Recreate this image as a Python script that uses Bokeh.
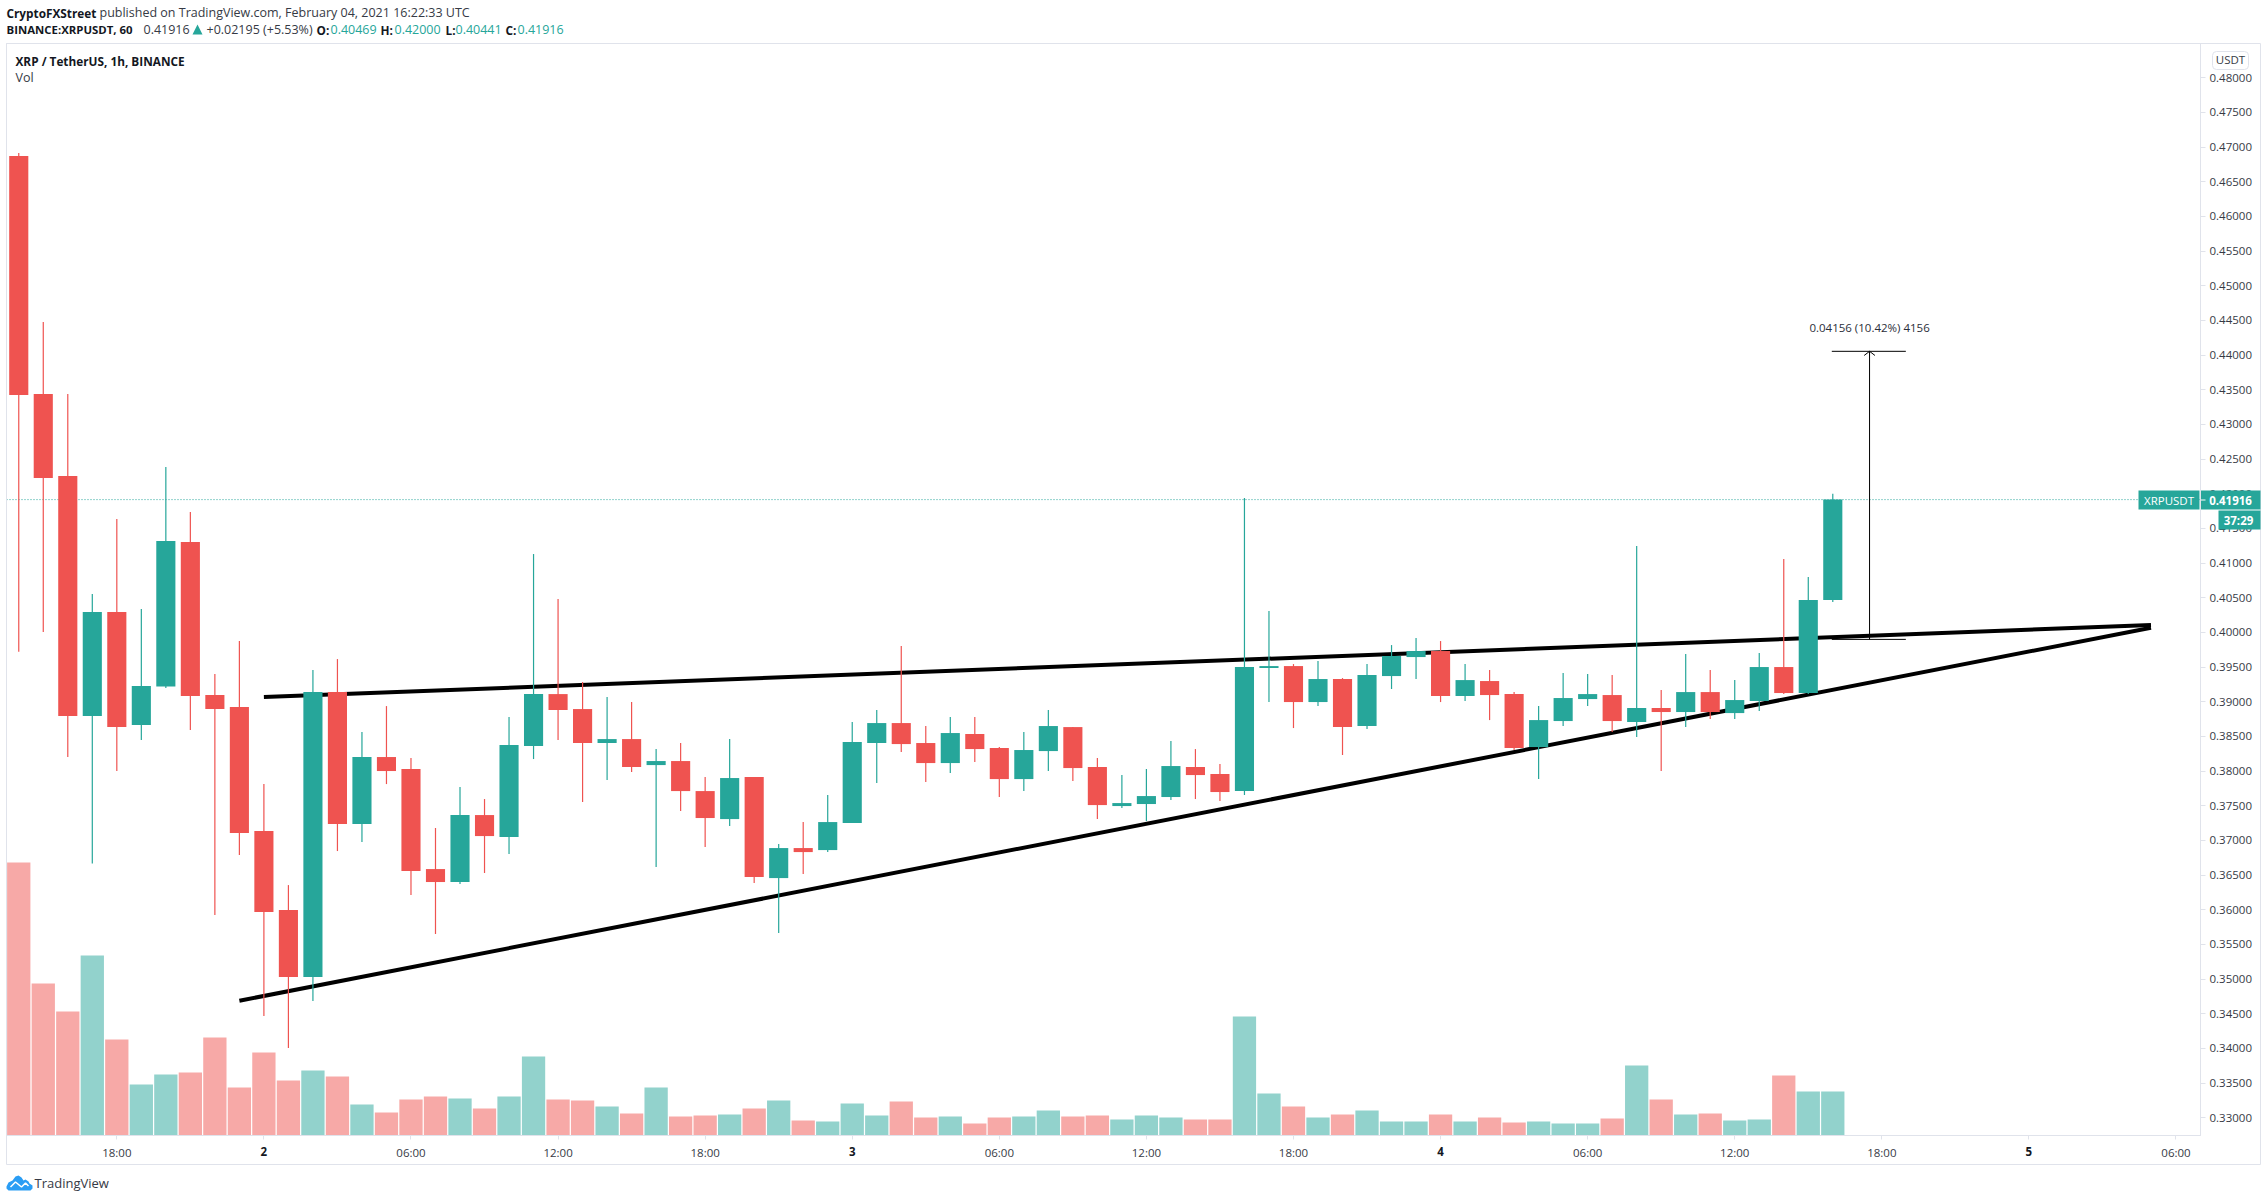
from bokeh.plotting import figure
from bokeh.layouts import column
from bokeh.embed import file_html
from bokeh.resources import INLINE
from bokeh.core.properties import value
from bokeh.models import Range1d, FixedTicker, Span, ColumnDataSource

# ---- data -----------------------------------------------------------------
START_HOUR = -10  # first candle: 1 Feb 14:00, hours counted from 2 Feb 00:00
OPEN = [.46871,.43439,.42257,.38794,.40296,.38664,.39220,.41304,.39097,.38924,
        .37135,.35996,.35029,.39140,.37236,.38203,.38030,.36587,.36400,.37366,
        .37049,.38361,.39111,.38895,.38405,.38462,.38087,.38145,.37712,.37308,
        .37914,.36457,.36890,.36861,.37251,.38405,.38693,.38405,.38116,.38535,
        .38333,.37885,.38289,.38635,.38059,.37496,.37525,.37626,.38059,.37958,
        .37712,.39487,.39515,.38996,.39328,.38650,.39371,.39645,.39732,.39083,
        .39299,.39111,.38347,.38722,.39039,.39097,.38708,.38910,.38852,.39140,
        .38837,.39011,.39501,.39126,.40469]
HIGH = [.46915,.44477,.43439,.40554,.41636,.40338,.42386,.41737,.39400,.39876,
        .37813,.36356,.39458,.39616,.38563,.38938,.38188,.37179,.37770,.37597,
        .38780,.41131,.40482,.39285,.39068,.38996,.38318,.38405,.37914,.38462,
        .37914,.36948,.37265,.37655,.38708,.38881,.39804,.38650,.38780,.38780,
        .38347,.38563,.38881,.38635,.38188,.37943,.38030,.38434,.38318,.38102,
        .41939,.40309,.39544,.39587,.39342,.39544,.39818,.39919,.39876,.39544,
        .39458,.39140,.38938,.39414,.39400,.39386,.41246,.39169,.39688,.39458,
        .39313,.39703,.41059,.40799,.42000]
LOW = [.39722,.40006,.38203,.36667,.38001,.38448,.39198,.38592,.35924,.36789,
       .34467,.34005,.34683,.36847,.36977,.37813,.36212,.35650,.36371,.36530,
       .36804,.38174,.38448,.37554,.37871,.37986,.36616,.37424,.36905,.37208,
       .36385,.35664,.36515,.36832,.37251,.37828,.38275,.37842,.37972,.38131,
       .37626,.37712,.38001,.37857,.37308,.37467,.37280,.37583,.37597,.37568,
       .37655,.38996,.38621,.38938,.38232,.38607,.39184,.39328,.38996,.39011,
       .38736,.38304,.37885,.38650,.38938,.38563,.38491,.38001,.38635,.38751,
       .38751,.38866,.39111,.39111,.40441]
CLOSE = [.43424,.42227,.38794,.40296,.38635,.39227,.41318,.39083,.38895,.37107,
         .35967,.35029,.39140,.37236,.38203,.38001,.36558,.36400,.37366,.37063,
         .38376,.39111,.38881,.38405,.38462,.38059,.38145,.37712,.37323,.37900,
         .36472,.36890,.36832,.37265,.38419,.38693,.38390,.38116,.38549,.38318,
         .37885,.38304,.38650,.38044,.37510,.37539,.37640,.38073,.37943,.37698,
         .39501,.39515,.38996,.39328,.38635,.39386,.39660,.39732,.39083,.39313,
         .39097,.38333,.38736,.39054,.39111,.38722,.38910,.38852,.39140,.38852,
         .39025,.39501,.39126,.40469,.41916]
VOLUME = [273,152,124,180,96,51,61,63,98,48,83,55,65,59,31,23,36,39,37,27,39,79,
          36,35,29,22,48,19,20,21,27,35,15,14,32,20,34,18,19,12,18,19,25,19,20,
          16,20,18,16,16,119,42,29,18,21,25,14,14,21,14,18,13,14,12,12,17,70,36,
          21,22,15,16,60,44,44]
PRICE_TICKS = [.33,.335,.34,.345,.35,.355,.36,.365,.37,.375,.38,.385,.39,.395,.40,
               .405,.41,.415,.42,.425,.43,.435,.44,.445,.45,.455,.46,.465,.47,.475,.48]
TIME_TICKS = {-6:"18:00",0:"",6:"06:00",12:"12:00",18:"18:00",24:"",30:"06:00",36:"12:00",
              42:"18:00",48:"",54:"06:00",60:"12:00",66:"18:00",72:"",78:"06:00"}
DAY_TICKS = {0:"2",24:"3",48:"4",72:"5"}
UPPER_LINE = ([0.0,76.98],[.39068,.40107])
LOWER_LINE = ([-1.0,76.98],[.34688,.40068])
MEASURE_HOUR, MEASURE_FROM, MEASURE_TO = 65.5, .39900, .44055
MEASURE_CAP = (63.96,66.98)
LAST_PRICE = .41916

# ---- page geometry ---------------------------------------------------------
W, H = 2262, 1193
FL, FR, FT, FB = 6, 2200, 43, 1135
XR = (-10.5,79.0)
UP, DOWN = "#26a69a", "#ef5350"
UP_V, DOWN_V = "#92d2cc", "#f7a9a7"
BORDER = "#e0e3eb"
FONT = "Open Sans"

p1 = figure(width=W, height=H, output_backend="svg", toolbar_location=None,
            x_range=Range1d(*XR), y_range=Range1d(.32744,.48495),
            x_axis_location="below", y_axis_location="right",
            min_border_left=FL, min_border_right=W-FR, min_border_top=FT, min_border_bottom=H-FB,
            background_fill_color="white", border_fill_color="white",
            outline_line_color=BORDER, outline_line_width=1, frame_align=False)
p1.grid.visible = False

xa, ya = p1.xaxis[0], p1.yaxis[0]
xa.ticker = FixedTicker(ticks=list(TIME_TICKS))
xa.major_label_overrides = {k:v for k,v in TIME_TICKS.items()}
ya.ticker = FixedTicker(ticks=PRICE_TICKS)
ya.major_label_overrides = {t:f"{t:.5f}" for t in PRICE_TICKS}
for a in (xa,ya):
    a.axis_line_color = BORDER
    a.major_tick_line_color = BORDER
    a.major_tick_in = 0
    a.minor_tick_line_color = None
    a.major_label_text_color = "#363a45"
    a.major_label_text_font = FONT
    a.major_label_text_font_size = "11.5px"
xa.major_tick_out = 4
xa.major_label_standoff = 5
ya.major_tick_out = 5
ya.major_label_standoff = 4

p1.extra_y_ranges = {"vol":Range1d(0,FB-FT)}

hours = [START_HOUR+i for i in range(len(OPEN))]
src = ColumnDataSource(dict(
    x=hours, o=OPEN, h=HIGH, l=LOW, c=CLOSE, v=VOLUME,
    color=[UP if c>=o else DOWN for o,c in zip(OPEN,CLOSE)],
    vcolor=[UP_V if c>=o else DOWN_V for o,c in zip(OPEN,CLOSE)],
    top=[max(o,c) for o,c in zip(OPEN,CLOSE)],
    bot=[min(o,c) for o,c in zip(OPEN,CLOSE)]))

p1.add_layout(Span(location=LAST_PRICE, dimension="width", line_color=UP, line_width=1,
                   line_dash="1 2", level="underlay"))
p1.vbar(x="x", top="v", bottom=0, width=.95, fill_color="vcolor", line_color=None,
        source=src, y_range_name="vol")
for xs,ys in (UPPER_LINE,LOWER_LINE):
    p1.line(xs, ys, line_color="black", line_width=4, line_cap="butt")
p1.segment(x0="x", x1="x", y0="l", y1="h", line_color="color", line_width=1.2, source=src)
p1.vbar(x="x", top="top", bottom="bot", width=.78, fill_color="color", line_color=None, source=src)

M = "#000000"
p1.segment(x0=[MEASURE_HOUR,MEASURE_CAP[0],MEASURE_CAP[0],MEASURE_HOUR-.22,MEASURE_HOUR+.22],
           x1=[MEASURE_HOUR,MEASURE_CAP[1],MEASURE_CAP[1],MEASURE_HOUR,MEASURE_HOUR],
           y0=[MEASURE_FROM,MEASURE_FROM,MEASURE_TO,MEASURE_TO-.0006,MEASURE_TO-.0006],
           y1=[MEASURE_TO,MEASURE_FROM,MEASURE_TO,MEASURE_TO,MEASURE_TO],
           line_color=M, line_width=1)
p1.text([MEASURE_HOUR],[MEASURE_TO+.0034],text=["0.04156 (10.42%) 4156"],text_color="#2a2e39",
        text_font=value(FONT),text_font_size="11.5px",text_align="center",text_baseline="middle")

# ---- transparent page-sized layer for everything round the chart -----------
p2 = figure(width=W, height=H, output_backend="svg", toolbar_location=None,
            x_range=Range1d(0,W), y_range=Range1d(H,0), x_axis_type=None, y_axis_type=None,
            min_border=0, background_fill_alpha=0, border_fill_alpha=0, outline_line_color=None,
            margin=(-H,0,0,0), frame_align=False)
p2.grid.visible = False

def txt(x,y,t,color="#131722",size=12.5,bold=False,align="left"):
    p2.text([x],[y],text=[t],text_color=color,text_font=value(FONT),text_font_size=f"{size}px",
            text_font_style="bold" if bold else "normal",text_align=align,text_baseline="middle")
def box(x0,x1,y0,y1,fill=None,line=None,**kw):
    p2.quad(left=[x0],right=[x1],top=[y0],bottom=[y1],fill_color=fill,line_color=line,
            fill_alpha=1 if fill else 0,**kw)

box(FL,2260,FT,1164,line=BORDER)
for h,t in DAY_TICKS.items():
    txt(FL+(h-XR[0])/(XR[1]-XR[0])*(FR-FL),1151,t,size=11.5,bold=True,align="center")

txt(6,12,"CryptoFXStreet",bold=True,size=11.8)
txt(99,12,"published on TradingView.com, February 04, 2021 16:22:33 UTC",color="#363a45")
txt(6,29,"BINANCE:XRPUSDT, 60",bold=True,size=11.4)
txt(143,29,"0.41916",color="#363a45")
p2.patch([192,197,202],[34,24,34],fill_color=UP,line_color=None)
txt(206,29,"+0.02195 (+5.53%)",color="#363a45")
for x,t in ((316,"O:"),(380,"H:"),(445,"L:"),(505,"C:")):
    txt(x,29,t,bold=True,size=11.8)
for x,t in ((330,"0.40469"),(394,"0.42000"),(455,"0.40441"),(517,"0.41916")):
    txt(x,29,t,color=UP)
txt(15,60,"XRP / TetherUS, 1h, BINANCE",bold=True,size=11.8)
txt(15,77,"Vol",color="#363a45")

box(2212,2248,51,69,fill="white",line=BORDER,border_radius=4)
txt(2230,59,"USDT",color="#363a45",size=11.5,align="center")
box(2138,2199,490,509,fill=UP)
box(2200.5,2260,490,509,fill=UP)
box(2218,2260,510,529,fill=UP)
box(2200.5,2205,499,500,fill="white")
txt(2168.5,499.5,"XRPUSDT",color="white",size=11.5,align="center")
txt(2230,499.5,"0.41916",color="white",size=11.5,bold=True,align="center")
txt(2238,519.5,"37:29",color="white",size=11.5,bold=True,align="center")

p2.patch([6,8,12,15,18,21,23,25,28,29,32,32,30,8,6],
         [1186,1182,1180,1176,1175,1177,1180,1179,1181,1183,1185,1188,1190,1190,1188],
         fill_color="#2a9df4",line_color=None)
p2.line([10,15,21,25,28],[1186.5,1181.5,1186.5,1182.5,1185.5],line_color="white",line_width=1.5)
txt(34,1182,"TradingView",color="#363a45",size=13)

p = column(p1,p2,spacing=0)
open("out.html","w").write(file_html(p,INLINE))
